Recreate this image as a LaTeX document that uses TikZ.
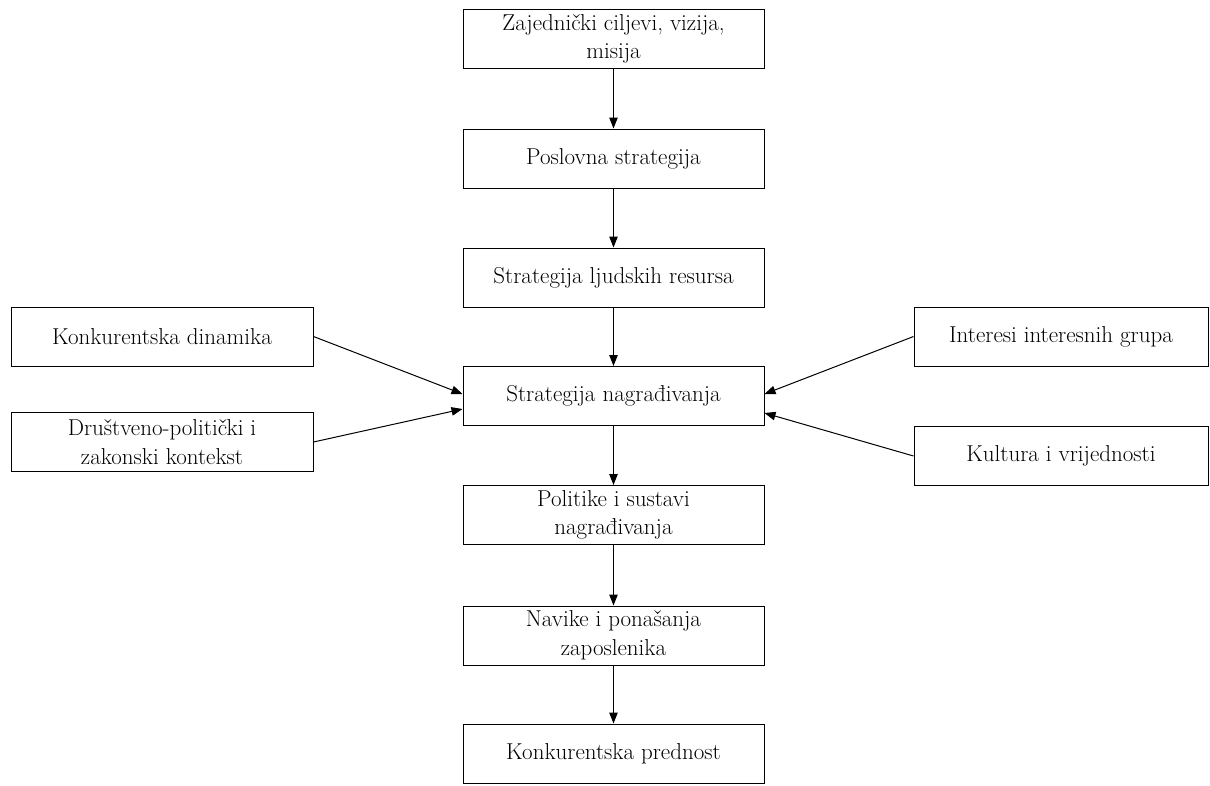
\documentclass[tikz,border=0pt]{standalone}
\usetikzlibrary{arrows.meta}
\begin{document}
\begin{tikzpicture}[x=1pt,y=-1pt,
  box/.style={draw=black,line width=1pt,fill=white,inner sep=0pt,align=center,
    font=\fontsize{23}{28.5}\selectfont,minimum height=59pt},
  cbox/.style={box,minimum width=301pt},
  lbox/.style={box,minimum width=302pt},
  rbox/.style={box,minimum width=294pt},
  arr/.style={line width=1pt,-{Triangle[length=11pt,width=8.5pt]}}]
\useasboundingbox (0,0) rectangle (1210,785);
\node[cbox] (zc) at (613.5,39) {Zajednički ciljevi, vizija,\\misija};
\node[cbox] (ps) at (613.5,158.5) {Poslovna strategija};
\node[cbox] (slr) at (613.5,277.5) {Strategija ljudskih resursa};
\node[cbox] (sn) at (613.5,396) {Strategija nagrađivanja};
\node[cbox] (pol) at (613.5,515) {Politike i sustavi\\nagrađivanja};
\node[cbox] (nav) at (613.5,635.5) {Navike i ponašanja\\zaposlenika};
\node[cbox] (kp) at (613.5,753.5) {Konkurentska prednost};
\node[lbox] (kd) at (162,336.5) {Konkurentska dinamika};
\node[lbox] (dp) at (162,442) {Društveno-politički i\\zakonski kontekst};
\node[rbox] (ii) at (1061,336.5) {Interesi interesnih grupa};
\node[rbox] (kv) at (1061,456) {Kultura i vrijednosti};
\draw[arr] (zc) -- (ps);
\draw[arr] (ps) -- (slr);
\draw[arr] (slr) -- (sn);
\draw[arr] (sn) -- (pol);
\draw[arr] (pol) -- (nav);
\draw[arr] (nav) -- (kp);
\draw[arr] (kd.east) -- ([yshift=2pt]sn.west);
\draw[arr] (dp.east) -- ([yshift=-13pt]sn.west);
\draw[arr] (ii.west) -- ([yshift=2pt]sn.east);
\draw[arr] (kv.west) -- ([yshift=-17pt]sn.east);
\end{tikzpicture}
\end{document}
